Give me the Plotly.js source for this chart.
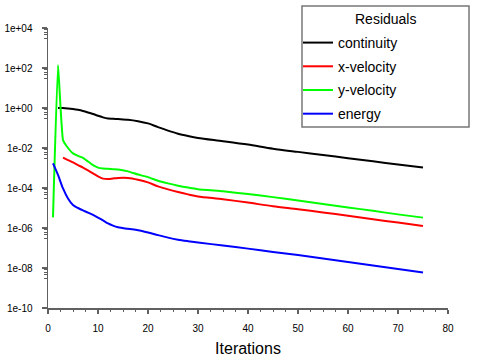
<!DOCTYPE html>
<html>
<head>
<meta charset="utf-8">
<script src="https://cdn.plot.ly/plotly-3.0.1.min.js"></script>
<style>html,body{margin:0;padding:0;background:#fff;}#chart{width:484px;height:357px;}</style>
</head>
<body>
<div id="chart"></div>
<script>
// ---- data ----
var seriesNames = ["continuity", "x-velocity", "y-velocity", "energy"];
var seriesColors = ["#000000", "#ff0000", "#00ff00", "#0000ff"];
var seriesSmoothing = [0.8, 0.8, 0.35, 0.8];

var continuityIter = [2,3,4,5,6,7,8,9,10,11,12,13,14,16,18,20,22,24,26,28,30,35,40,45,50,55,60,65,70,75];
var continuityRes  = [1.0,1.0,0.955,0.89,0.81,0.71,0.60,0.50,0.41,0.34,0.30,0.29,0.28,0.26,0.22,0.170,0.110,0.074,0.052,0.040,0.032,0.022,0.0148,0.0092,0.0064,0.0045,0.0031,0.00215,0.0015,0.00105];

var xvelIter = [3,4,5,6,7,8,9,10,11,12,13,14,16,18,20,22,24,26,28,30,35,40,45,50,55,60,65,70,75];
var xvelRes  = [3.3e-3,2.5e-3,1.9e-3,1.4e-3,1.05e-3,7.6e-4,5.4e-4,3.8e-4,2.95e-4,2.8e-4,3.0e-4,3.2e-4,3.2e-4,2.6e-4,1.9e-4,1.2e-4,8.5e-5,6.3e-5,4.8e-5,3.8e-5,2.75e-5,1.86e-5,1.22e-5,8.7e-6,6.0e-6,4.1e-6,2.75e-6,1.86e-6,1.26e-6];

var yvelIter = [1,2,3,4,5,6,7,8,9,10,11,12,13,14,16,18,20,22,24,26,28,30,35,40,45,50,55,60,65,70,75];
var yvelRes  = [3.4e-6,1.4e2,2.5e-2,1.0e-2,5.4e-3,4.0e-3,3.2e-3,2.1e-3,1.4e-3,1.05e-3,9.5e-4,9.1e-4,8.7e-4,8.5e-4,6.8e-4,4.7e-4,3.5e-4,2.3e-4,1.7e-4,1.3e-4,1.05e-4,8.7e-5,6.8e-5,5.0e-5,3.5e-5,2.35e-5,1.6e-5,1.07e-5,7.2e-6,4.8e-6,3.3e-6];

var energyIter = [1,2,3,4,5,6,7,8,9,10,11,12,13,14,16,18,20,22,24,26,28,30,35,40,45,50,55,60,65,70,75];
var energyRes  = [1.7e-3,4.5e-4,9.5e-5,3.0e-5,1.4e-5,1.0e-5,7.6e-6,5.9e-6,4.5e-6,3.3e-6,2.4e-6,1.7e-6,1.32e-6,1.1e-6,9.1e-7,7.8e-7,6.0e-7,4.4e-7,3.3e-7,2.6e-7,2.2e-7,1.9e-7,1.32e-7,9.3e-8,6.3e-8,4.5e-8,3.0e-8,2.0e-8,1.35e-8,8.9e-9,5.9e-9];

var yTickVals  = [1e-10,1e-8,1e-6,1e-4,1e-2,1e0,1e2,1e4];
var yTickText  = ["1e-10","1e-08","1e-06","1e-04","1e-02","1e+00","1e+02","1e+04"];
var yMinorFactors = [0.8,0.6,0.5,0.3];
var xTickVals = [0,10,20,30,40,50,60,70,80];

var legendTitle = "Residuals";
var xTitle = "Iterations";

// ---- build ----
var xs = [continuityIter, xvelIter, yvelIter, energyIter];
var ys = [continuityRes, xvelRes, yvelRes, energyRes];
var traces = seriesNames.map(function(n, i){
  return {x: xs[i], y: ys[i], name: n, type: 'scatter', mode: 'lines',
          legendgroup: 'g' + i,
          line: {color: seriesColors[i], width: 2, shape: 'spline', smoothing: seriesSmoothing[i]}};
});

var yMinor = [];
yTickVals.forEach(function(v){ yMinorFactors.forEach(function(f){ if (v > 1e-10) yMinor.push(v * f); }); });

var FONT = "Liberation Sans, Arial, sans-serif";
var axisColor = "#606060";

var layout = {
  width: 484, height: 357,
  margin: {l: 48, r: 36, t: 28, b: 49, pad: 0},
  paper_bgcolor: '#fff', plot_bgcolor: '#fff',
  font: {family: FONT, color: '#000', size: 10},
  showlegend: true,
  legend: {x: 0.625, xanchor: 'left', y: 1.0036, yanchor: 'top',
           bgcolor: 'rgba(0,0,0,0)', borderwidth: 0,
           font: {family: FONT, size: 14, color: '#000'},
           tracegroupgap: 2.5, itemwidth: 30},
  xaxis: {range: [0, 80], tickmode: 'array', tickvals: xTickVals,
          showgrid: false, zeroline: false, showline: true, linecolor: axisColor, linewidth: 1.5,
          ticks: 'outside', ticklen: 4, tickcolor: axisColor, tickwidth: 1.2,
          tickfont: {family: FONT, size: 10, color: '#000'}, ticklabelstandoff: 6,
          minor: {dtick: 2.5, ticks: 'outside', ticklen: 2.5, tickcolor: axisColor, tickwidth: 1},
          title: {text: xTitle, font: {family: FONT, size: 16, color: '#000'}, standoff: 12},
          automargin: false, fixedrange: true},
  yaxis: {type: 'log', range: [-10, 4], tickmode: 'array', tickvals: yTickVals, ticktext: yTickText,
          showgrid: false, zeroline: false, showline: true, linecolor: axisColor, linewidth: 1.5,
          ticks: 'outside', ticklen: 5, tickcolor: axisColor, tickwidth: 1.2,
          tickfont: {family: FONT, size: 10, color: '#000'}, ticklabelstandoff: 7,
          minor: {tickmode: 'array', tickvals: yMinor, ticks: 'outside', ticklen: 3, tickcolor: axisColor, tickwidth: 1},
          automargin: false, fixedrange: true},
  shapes: [{type: 'rect', xref: 'paper', yref: 'paper',
            x0: 0.635, x1: 1.0525, y0: 0.6464, y1: 1.0786,
            line: {color: '#777777', width: 1.5}, fillcolor: 'rgba(0,0,0,0)'}],
  annotations: [{text: legendTitle, xref: 'paper', yref: 'paper', x: 0.844, y: 1.032,
                 xanchor: 'center', yanchor: 'middle', showarrow: false,
                 font: {family: FONT, size: 14, color: '#000'}}]
};

Plotly.newPlot('chart', traces, layout, {displayModeBar: false, staticPlot: true});
</script>
</body>
</html>
